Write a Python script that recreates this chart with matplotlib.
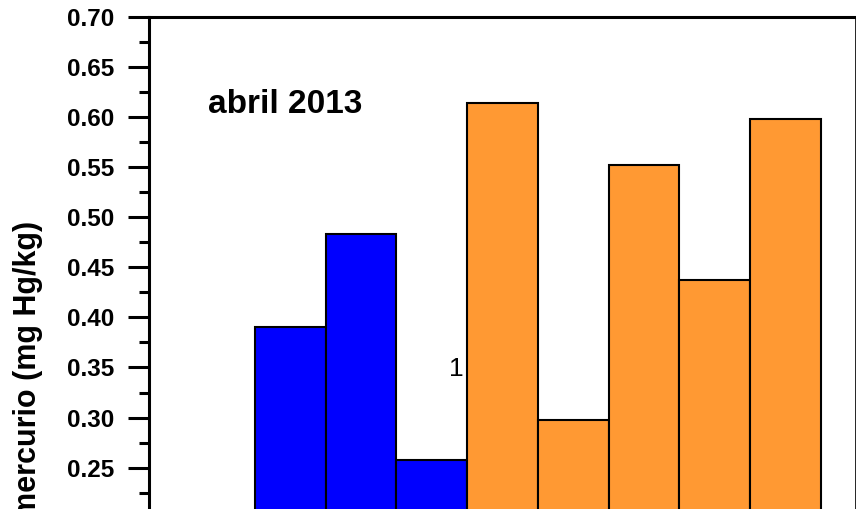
import matplotlib
matplotlib.use("Agg")
import matplotlib.pyplot as plt
from matplotlib.ticker import MultipleLocator, FormatStrFormatter

plt.rcParams['font.family'] = ['Liberation Sans', 'DejaVu Sans']

# Mercury content per sample, April 2013
positions_blue = [2, 3, 4]
values_blue = [0.390, 0.483, 0.258]
positions_orange = [5, 6, 7, 8, 9]
values_orange = [0.614, 0.298, 0.552, 0.4375, 0.598]

fig = plt.figure(figsize=(8.56, 5.09), dpi=100)
ax = fig.add_axes([149 / 856, 1 - 718 / 509, 707 / 856, 701 / 509])

ax.text(4.455, 0.349, "1", ha="right", va="center", fontsize=19, zorder=1)

ax.bar(positions_blue, values_blue, width=1.0, color="#0000FF",
       edgecolor="black", linewidth=1.5, zorder=2)
ax.bar(positions_orange, values_orange, width=1.0, color="#FF9933",
       edgecolor="black", linewidth=1.5, zorder=2)

ax.set_xlim(0, 10)
ax.set_ylim(0, 0.70)
ax.yaxis.set_major_locator(MultipleLocator(0.05))
ax.yaxis.set_minor_locator(MultipleLocator(0.025))
ax.yaxis.set_major_formatter(FormatStrFormatter("%.2f"))

ax.tick_params(axis="y", which="major", direction="out", length=15, width=2.2,
               pad=10, labelsize=17.5)
ax.tick_params(axis="y", which="minor", direction="out", length=7.5, width=2.2)
for lab in ax.get_yticklabels():
    lab.set_fontweight("bold")
ax.tick_params(axis="x", which="both", bottom=False, labelbottom=False)

ax.spines["left"].set_linewidth(2.2)
ax.spines["top"].set_linewidth(2.2)
ax.spines["right"].set_linewidth(1.2)
ax.spines["bottom"].set_visible(False)

ax.set_ylabel("mercurio (mg Hg/kg)", fontsize=22, fontweight="bold")
ax.yaxis.set_label_coords(-0.150, 0.497)

ax.text(0.83, 0.613, "abril 2013", ha="left", va="center", fontsize=24,
        fontweight="bold")

fig.savefig("out.png", dpi=100)
